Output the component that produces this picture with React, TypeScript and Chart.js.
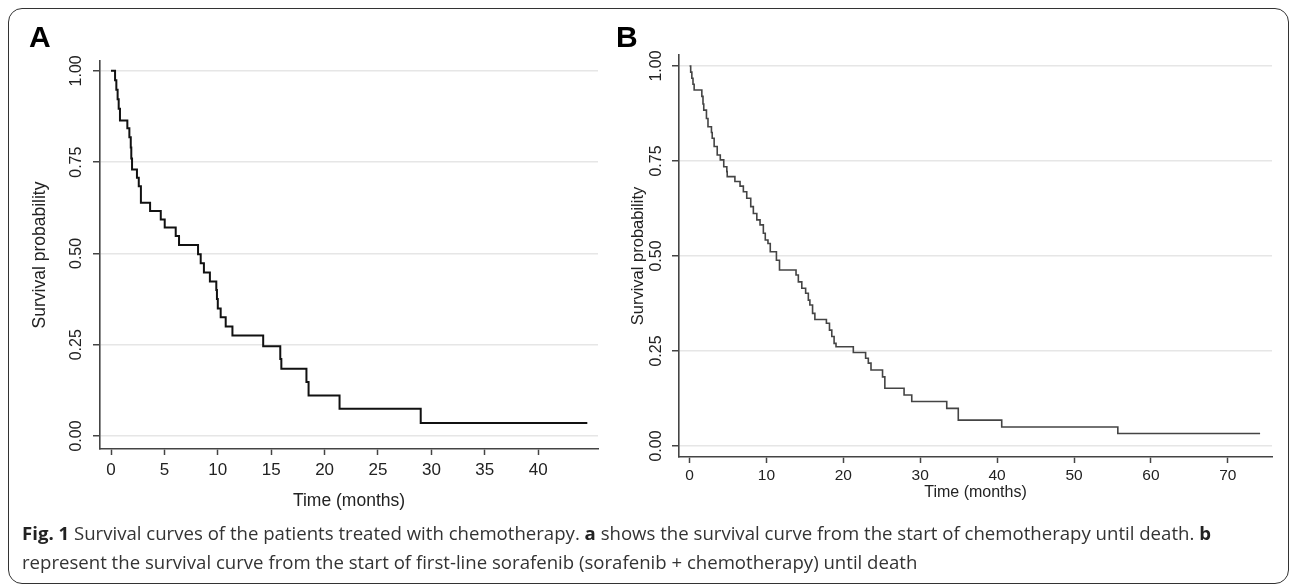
import React, { useEffect, useRef } from "react";
import { Chart, registerables } from "chart.js";

Chart.register(...registerables);

// Panel A: survival from start of chemotherapy (time in months, survival probability)
const timesA = [0, 0.38, 0.5, 0.62, 0.72, 0.84, 1.53, 1.72, 1.85, 1.9, 1.97, 2.43, 2.6, 2.8, 3.66, 4.66, 5.03, 6.06, 6.37, 8.15, 8.4, 8.7, 9.26, 9.86, 9.92, 10.0, 10.27, 10.74, 11.37, 14.25, 15.85, 15.95, 18.3, 18.5, 21.4, 29.0, 44.6];
const survA = [1, 0.974, 0.948, 0.922, 0.896, 0.864, 0.843, 0.818, 0.79, 0.76, 0.73, 0.707, 0.684, 0.639, 0.616, 0.593, 0.571, 0.548, 0.523, 0.498, 0.473, 0.448, 0.423, 0.4, 0.375, 0.349, 0.325, 0.3, 0.275, 0.246, 0.211, 0.184, 0.148, 0.111, 0.075, 0.036, 0.036];

// Panel B: survival from start of first-line sorafenib
const timesB = [0, 0.15, 0.3, 0.45, 0.6, 1.6, 1.75, 1.85, 2.2, 2.4, 2.85, 2.95, 3.2, 3.6, 4.0, 4.45, 4.85, 4.9, 5.9, 6.57, 7.0, 7.44, 7.96, 8.3, 8.75, 9.17, 9.6, 9.85, 10.2, 10.5, 11.3, 11.7, 13.85, 14.15, 14.6, 15.1, 15.45, 15.65, 16.0, 16.3, 17.8, 18.2, 18.5, 18.8, 19.05, 21.3, 22.9, 23.25, 23.6, 25.1, 25.4, 27.9, 28.9, 33.45, 34.95, 40.6, 55.7, 74.2];
const survB = [1, 0.984, 0.968, 0.952, 0.937, 0.92, 0.9, 0.884, 0.862, 0.84, 0.825, 0.81, 0.788, 0.766, 0.753, 0.735, 0.722, 0.709, 0.696, 0.684, 0.669, 0.652, 0.63, 0.612, 0.595, 0.582, 0.56, 0.542, 0.533, 0.511, 0.489, 0.463, 0.45, 0.432, 0.415, 0.402, 0.384, 0.371, 0.349, 0.333, 0.323, 0.305, 0.288, 0.27, 0.261, 0.246, 0.231, 0.218, 0.2, 0.182, 0.152, 0.134, 0.117, 0.099, 0.068, 0.05, 0.033, 0.033];

const yTicks = [0, 0.25, 0.5, 0.75, 1];
const xTicksA = [0, 5, 10, 15, 20, 25, 30, 35, 40];
const xTicksB = [0, 10, 20, 30, 40, 50, 60, 70];

const xTitle = "Time (months)";
const yTitle = "Survival probability";
const captionBold = "Fig. 1";
const captionLine1 = " Survival curves of the patients treated with chemotherapy. ";
const captionA = "a";
const captionLine1b = " shows the survival curve from the start of chemotherapy until death. ";
const captionB = "b";
const captionLine2 = "represent the survival curve from the start of first-line sorafenib (sorafenib + chemotherapy) until death";

const FONT = "'Liberation Sans', Arial, sans-serif";

type PanelCfg = {
  left: number;
  width: number;
  height: number;
  yWidth: number;
  padRight: number;
  padTop: number;
  xHeight: number;
  xMin: number;
  xMax: number;
  yMin: number;
  yMax: number;
  lineColor: string;
  lineWidth: number;
  xTickSize: number;
  yTickSize: number;
  xTitleSize: number;
  yTitleSize: number;
  xTickPad: number;
  yTickPad: number;
  xTitlePadBottom: number;
  yTitlePadTop: number;
};

function KMPanel(props: { times: number[]; surv: number[]; xTicks: number[]; cfg: PanelCfg }) {
  const ref = useRef<HTMLCanvasElement | null>(null);
  const { times, surv, xTicks, cfg } = props;
  useEffect(() => {
    if (!ref.current) return;
    const axisColor = "#444";
    const chart = new Chart(ref.current, {
      type: "line",
      data: {
        datasets: [
          {
            data: times.map((t, i) => ({ x: t, y: surv[i] })),
            stepped: true,
            borderColor: cfg.lineColor,
            borderWidth: cfg.lineWidth,
            pointRadius: 0,
            fill: false,
          },
        ],
      },
      options: {
        animation: false,
        responsive: false,
        maintainAspectRatio: false,
        events: [],
        plugins: { legend: { display: false }, tooltip: { enabled: false } },
        layout: { padding: { left: 0, right: cfg.padRight, top: cfg.padTop, bottom: 0 } },
        scales: {
          x: {
            type: "linear",
            min: cfg.xMin,
            max: cfg.xMax,
            afterBuildTicks: (s: any) => {
              s.ticks = xTicks.map((v) => ({ value: v }));
            },
            afterFit: (s: any) => {
              s.height = cfg.xHeight;
            },
            grid: { drawOnChartArea: false, drawTicks: true, tickLength: 6, tickColor: axisColor, tickWidth: 1.5 },
            border: { display: true, color: axisColor, width: 1.6 },
            ticks: {
              autoSkip: false,
              maxRotation: 0,
              minRotation: 0,
              padding: cfg.xTickPad,
              color: "#222",
              font: { family: FONT, size: cfg.xTickSize },
              callback: (v: any) => String(v),
            },
            title: {
              display: true,
              text: xTitle,
              color: "#222",
              font: { family: FONT, size: cfg.xTitleSize },
              padding: { top: 0, bottom: cfg.xTitlePadBottom },
            },
          },
          y: {
            type: "linear",
            min: cfg.yMin,
            max: cfg.yMax,
            afterBuildTicks: (s: any) => {
              s.ticks = yTicks.map((v) => ({ value: v }));
            },
            afterFit: (s: any) => {
              s.width = cfg.yWidth;
            },
            grid: { color: "#e6e6e6", lineWidth: 1.5, drawTicks: true, tickLength: 7, tickColor: axisColor, tickWidth: 1.5 },
            border: { display: true, color: axisColor, width: 1.6 },
            ticks: {
              minRotation: 90,
              maxRotation: 90,
              crossAlign: "center",
              padding: cfg.yTickPad,
              color: "#222",
              font: { family: FONT, size: cfg.yTickSize },
              callback: (v: any) => Number(v).toFixed(2),
            },
            title: {
              display: true,
              text: yTitle,
              color: "#222",
              font: { family: FONT, size: cfg.yTitleSize },
              padding: { top: cfg.yTitlePadTop, bottom: 0 },
            },
          },
        },
      },
    } as any);
    return () => chart.destroy();
  }, [times, surv, xTicks, cfg]);
  return (
    <canvas
      ref={ref}
      width={cfg.width}
      height={cfg.height}
      style={{ position: "absolute", left: cfg.left, top: 0, width: cfg.width, height: cfg.height }}
    />
  );
}

const cfgA: PanelCfg = {
  left: 0,
  width: 620,
  height: 520,
  yWidth: 100,
  padRight: 22,
  padTop: 61,
  xHeight: 71,
  xMin: -1.03,
  xMax: 45.6,
  yMin: -0.0355,
  yMax: 1.027,
  lineColor: "#111",
  lineWidth: 2,
  xTickSize: 17,
  yTickSize: 16,
  xTitleSize: 17.5,
  yTitleSize: 17.5,
  xTickPad: 5,
  yTickPad: 1,
  xTitlePadBottom: 8,
  yTitlePadTop: 30,
};

const cfgB: PanelCfg = {
  left: 620,
  width: 672,
  height: 520,
  yWidth: 59,
  padRight: 20,
  padTop: 55,
  xHeight: 63,
  xMin: -1.37,
  xMax: 75.75,
  yMin: -0.029,
  yMax: 1.029,
  lineColor: "#444",
  lineWidth: 1.6,
  xTickSize: 15.5,
  yTickSize: 16,
  xTitleSize: 16,
  yTitleSize: 16.5,
  xTickPad: 3,
  yTickPad: 0,
  xTitlePadBottom: 18,
  yTitlePadTop: 9,
};

export default function App() {
  return (
    <div style={{ position: "absolute", left: 0, top: 0, width: 1292, height: 586, background: "#fff", overflow: "hidden" }}>
      <div
        style={{
          position: "absolute",
          left: 8,
          top: 8,
          width: 1281,
          height: 576,
          boxSizing: "border-box",
          border: "1.5px solid #333",
          borderRadius: 14,
        }}
      />
      <KMPanel times={timesA} surv={survA} xTicks={xTicksA} cfg={cfgA} />
      <KMPanel times={timesB} surv={survB} xTicks={xTicksB} cfg={cfgB} />
      <div style={{ position: "absolute", left: 29, top: 22, font: `bold 30px ${FONT}`, lineHeight: "30px", color: "#000" }}>A</div>
      <div style={{ position: "absolute", left: 616, top: 22, font: `bold 30px ${FONT}`, lineHeight: "30px", color: "#000" }}>B</div>
      <div
        style={{
          position: "absolute",
          left: 22,
          top: 518,
          fontFamily: "'Open Sans', sans-serif",
          fontSize: 18.6,
          lineHeight: "29px",
          color: "#333",
          whiteSpace: "nowrap",
        }}
      >
        <b style={{ color: "#222" }}>{captionBold}</b>
        {captionLine1}
        <b style={{ color: "#222" }}>{captionA}</b>
        {captionLine1b}
        <b style={{ color: "#222" }}>{captionB}</b>
        <br />
        {captionLine2}
      </div>
    </div>
  );
}
